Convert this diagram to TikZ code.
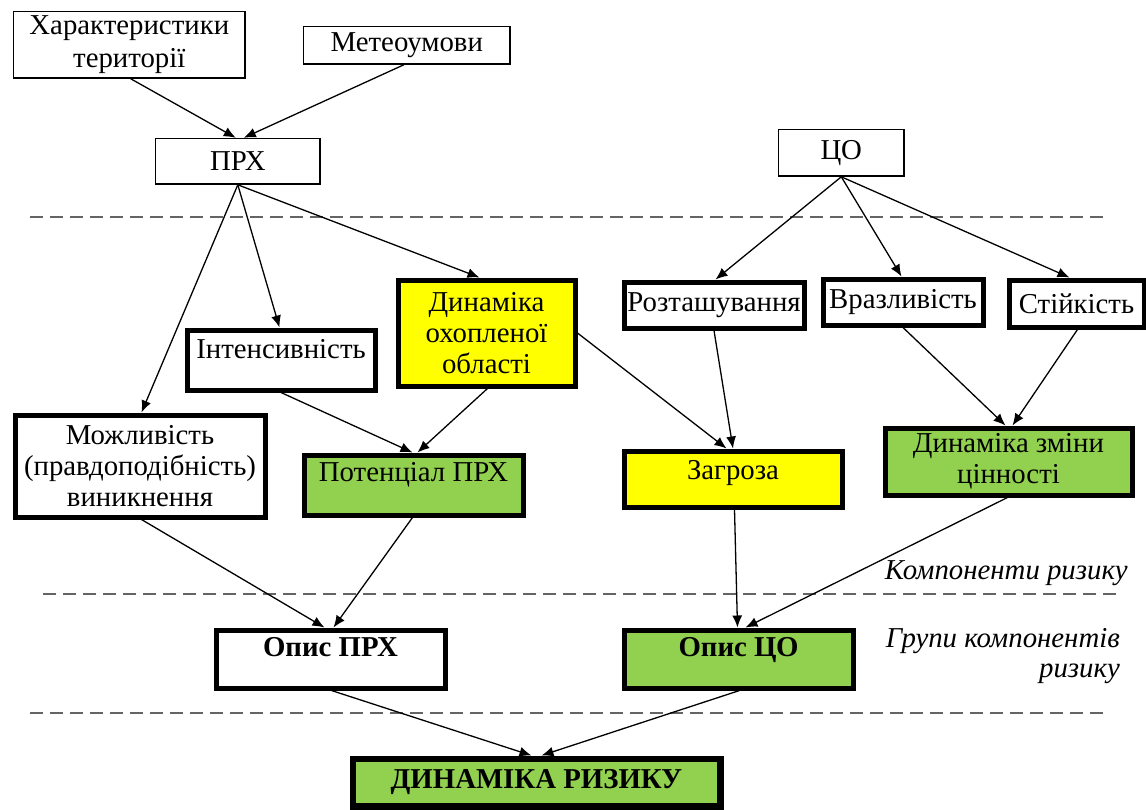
\documentclass[tikz,border=0pt]{standalone}
\usepackage{fontspec}
\setmainfont{Liberation Serif}
\usetikzlibrary{arrows.meta}
\definecolor{leaf}{HTML}{92D050}
\definecolor{lemon}{HTML}{FFFF00}
\definecolor{rule}{HTML}{646464}

\begin{document}
\begin{tikzpicture}[x=1pt,y=-1pt,
  every node/.style={font=\fontsize{28.8}{31}\selectfont},
  boxbase/.style={draw, rectangle, anchor=north west, align=center, inner xsep=2pt, inner ysep=0pt},
  plainbox/.style={boxbase, line width=1.6pt},
  heavybox/.style={boxbase, line width=5pt},
  boldtext/.style={font=\fontsize{28.8}{31}\selectfont\bfseries},
  conn/.style={line width=1.3pt, -{Latex[length=12pt,width=10pt]}},
  divider/.style={draw=rule, line width=2.6pt, dash pattern=on 13pt off 7pt},
  note/.style={anchor=base east, inner sep=0pt, font=\fontsize{28.8}{31}\selectfont\itshape}
]
\useasboundingbox (0,0) rectangle (1146,809);

% level separators
\draw[divider] (30,217) -- (1107,217);
\draw[divider] (43,594) -- (1120,594);
\draw[divider] (30,713) -- (1108,713);

% sources
\node[plainbox, minimum width=231.4pt, minimum height=66.4pt, font=\fontsize{28.8}{33}\selectfont] (har) at (12.8,10.8) {Характеристики\\території};
\node[plainbox, minimum width=206.4pt, minimum height=37.4pt] (met) at (302.8,25.8) {Метеоумови};
\node[plainbox, minimum width=164.4pt, minimum height=45.4pt] (prx) at (154.8,137.8) {ПРХ};
\node[plainbox, minimum width=125.4pt, minimum height=46.4pt] (co) at (777.8,128.8) {ЦО};

% risk components
\node[heavybox, fill=lemon, minimum width=177pt, minimum height=106pt] (dyn) at (395.5,277.5) {Динаміка\\охопленої\\області};
\node[heavybox, minimum width=188pt, text height=28.5pt, text depth=31.5pt] (int) at (184.5,327.5) {Інтенсивність};
\node[heavybox, minimum width=250pt, minimum height=102pt] (mozh) at (12.5,412.5) {Можливість\\(правдоподібність)\\виникнення};
\node[heavybox, fill=leaf, minimum width=219pt, text height=26.5pt, text depth=33.5pt] (pot) at (301.5,452.5) {Потенціал ПРХ};

\node[heavybox, minimum width=180pt, minimum height=46pt] (roz) at (621.5,279.5) {Розташування};
\node[heavybox, minimum width=160pt, minimum height=46pt] (vra) at (820.5,276.5) {Вразливість};
\node[heavybox, minimum width=135pt, minimum height=47pt] (sti) at (1006.5,277.5) {Стійкість};
\node[heavybox, fill=lemon, minimum width=218pt, text height=28.5pt, text depth=27.5pt] (zag) at (621.5,448.5) {Загроза};
\node[heavybox, fill=leaf, minimum width=247pt, minimum height=67pt] (dzc) at (882.5,425.5) {Динаміка зміни\\цінності};

% groups of components
\node[heavybox, boldtext, minimum width=229pt, text height=26.5pt, text depth=31.5pt] (opr) at (213.5,627.5) {Опис ПРХ};
\node[heavybox, boldtext, fill=leaf, minimum width=229pt, text height=26.5pt, text depth=31.5pt] (oco) at (621.5,627.5) {Опис ЦО};

% result, framed by a thick outer and a thin inner line
\node[heavybox, boldtext, fill=leaf, minimum width=369pt, minimum height=49pt] (risk) at (349.5,755.5) {ДИНАМІКА РИЗИКУ};
\draw[line width=1.5pt] ([shift={(5.5pt,-5.5pt)}]risk.north west) rectangle ([shift={(-5.5pt,5.5pt)}]risk.south east);

% level captions
\node[note] (capa) at (1128,579) {Компоненти ризику};
\node[note] (capb) at (1120,647) {Групи компонентів};
\node[note] (capc) at (1120,677) {ризику};

% connectors
\draw[conn] ([xshift=1.5pt]har.south) -- ([xshift=-2pt]prx.north);
\draw[conn] ([xshift=-3pt]met.south) -- ([xshift=6pt]prx.north);
\draw[conn] (prx.south) -- ([xshift=1.5pt]mozh.north);
\draw[conn] (prx.south) -- ([xshift=-1.5pt]int.north);
\draw[conn] (prx.south) -- ([xshift=-7pt]dyn.north);
\draw[conn] (co.south) -- ([xshift=1.5pt]roz.north);
\draw[conn] (co.south) -- ([xshift=-1.5pt]vra.north);
\draw[conn] (co.south) -- ([xshift=-7pt]sti.north);
\draw[conn] (int.south) -- ([xshift=-1pt]pot.north);
\draw[conn] ([xshift=1pt]dyn.south) -- ([xshift=4pt]pot.north);
\draw[conn] (dyn.east) -- ([xshift=-6.5pt]zag.north);
\draw[conn] (roz.south) -- (zag.north);
\draw[conn] (vra.south) -- ([xshift=-3pt]dzc.north);
\draw[conn] ([xshift=1pt]sti.south) -- ([xshift=4pt]dzc.north);
\draw[conn] ([xshift=1.5pt]mozh.south) -- ([xshift=-6pt]opr.north);
\draw[conn] ([xshift=-1pt]pot.south) -- ([xshift=3pt]opr.north);
\draw[conn] ([xshift=1.5pt]zag.south) -- ([xshift=-1pt]oco.north);
\draw[conn] ([xshift=-1pt]dzc.south) -- ([xshift=7pt]oco.north);
\draw[conn] ([xshift=1pt]opr.south) -- ([xshift=-5pt]risk.north);
\draw[conn] ([xshift=1pt]oco.south) -- ([xshift=5pt]risk.north);
\end{tikzpicture}
\end{document}
